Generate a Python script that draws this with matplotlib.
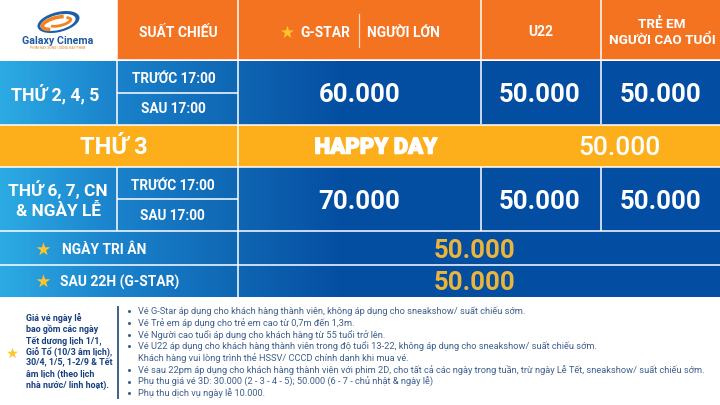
import numpy as np
import matplotlib.pyplot as plt
from matplotlib.colors import LinearSegmentedColormap
from matplotlib.patches import Rectangle, Ellipse, Arc
import matplotlib.patheffects as pe

plt.rcParams['font.family'] = ['Roboto', 'DejaVu Sans']

# table content
header_labels = ['SUẤT CHIẾU', 'G-STAR', 'NGƯỜI LỚN', 'U22', 'TRẺ EM\nNGƯỜI CAO TUỔI']
show_times = ['TRƯỚC 17:00', 'SAU 17:00']
weekday_label = 'THỨ 2, 4, 5'
weekday_prices = ['60.000', '50.000', '50.000']
tuesday_label = 'THỨ 3'
tuesday_title = 'HAPPY DAY'
tuesday_price = '50.000'
weekend_label = 'THỨ 6, 7, CN\n& NGÀY LỄ'
weekend_prices = ['70.000', '50.000', '50.000']
special_labels = ['NGÀY TRI ÂN', 'SAU 22H (G-STAR)']
special_prices = ['50.000', '50.000']
holiday_note = ['Giá vé ngày lễ', 'bao gồm các ngày', 'Tết dương lịch 1/1,',
                'Giỗ Tổ (10/3 âm lịch),', '30/4, 1/5, 1-2/9 & Tết',
                'âm lịch (theo lịch', 'nhà nước/ linh hoạt).']
notes = [
    (True, 'Vé G-Star áp dụng cho khách hàng thành viên, không áp dụng cho sneakshow/ suất chiếu sớm.'),
    (True, 'Vé Trẻ em áp dụng cho trẻ em cao từ 0,7m đến 1,3m.'),
    (True, 'Vé Người cao tuổi áp dụng cho khách hàng từ 55 tuổi trở lên.'),
    (True, 'Vé U22 áp dụng cho khách hàng thành viên trong độ tuổi 13-22, không áp dụng cho sneakshow/ suất chiếu sớm.'),
    (False, 'Khách hàng vui lòng trình thẻ HSSV/ CCCD chính danh khi mua vé.'),
    (True, 'Vé sau 22pm áp dụng cho khách hàng thành viên với phim 2D, cho tất cả các ngày trong tuần, trừ ngày Lễ Tết, sneakshow/ suất chiếu sớm.'),
    (True, 'Phụ thu giá vé 3D: 30.000 (2 - 3 - 4 - 5); 50.000 (6 - 7 - chủ nhật & ngày lễ)'),
    (True, 'Phụ thu dịch vụ ngày lễ 10.000.'),
]

ORANGE = '#F47321'
AMBER = '#FDAE1B'
GOLD = '#E9B53D'
STAR = '#FDC52B'
NAVY = '#17407F'
GREY_TEXT = '#3F5F8C'

fig = plt.figure(figsize=(7.2, 4.05), dpi=100)
ax = fig.add_axes([0, 0, 1, 1])
ax.axis('off')

# blue gradient behind all rows
blues = LinearSegmentedColormap.from_list('blues', [
    (0, '#2CABE3'), (0.16, '#1A82CB'), (0.33, '#0F66B3'), (0.47, '#054FA2'), (1, '#034EA2')])
ax.imshow(np.linspace(0, 1, 720).reshape(1, -1), cmap=blues, aspect='auto',
          extent=(0, 720, 297, 61), zorder=0)
ax.set_xlim(0, 720)
ax.set_ylim(405, 0)

ax.add_patch(Rectangle((117, 0), 603, 60, color=ORANGE, lw=0, zorder=1))
ax.add_patch(Rectangle((0, 125), 720, 41.5, color=AMBER, lw=0, zorder=1))

# grid lines
def hline(y, x0=0, x1=720):
    ax.plot([x0, x1], [y, y], color='white', lw=1.1, zorder=2, solid_capstyle='butt')

def vline(x, y0, y1):
    ax.plot([x, x], [y0, y1], color='white', lw=1.1, zorder=2, solid_capstyle='butt')

for y in [60, 125, 166.5, 231, 265]:
    hline(y)
hline(92.5, 117, 238)
hline(199, 117, 238)
vline(117, 0, 124)
vline(117, 167, 231)
vline(238, 0, 297)
vline(480.5, 0, 124)
vline(480.5, 167, 231)
vline(601, 0, 124)
vline(601, 167, 231)
ax.plot([359, 359], [14, 47], color='#F9D9B8', lw=0.9, zorder=3)

def label(x, y, s, size, color='white', weight='bold', ha='center', **kw):
    # bbox centring sits high because of the accents, push it down a bit
    return ax.text(x, y + size * 0.13, s, fontsize=size, color=color, fontweight=weight,
                   ha=ha, va='center', zorder=4, **kw)

# header
label(178, 32, header_labels[0], 10)
label(325, 32, header_labels[1], 10)
label(403, 32, header_labels[2], 10)
label(541, 31, header_labels[3], 10)
label(662, 31, header_labels[4], 9.7, linespacing=1.3)
ax.scatter([287], [32], marker='*', s=95, color=STAR, lw=0, zorder=4)

# weekday row
label(55.5, 92, weekday_label, 12.8)
for y, s in zip([77.5, 108], show_times):
    label(173.5, y, s, 9.8)
for x, s in zip([359.5, 540, 661], weekday_prices):
    label(x, 93, s, 18.5)

# tuesday row
label(114, 145.5, tuesday_label, 17)
label(376, 145.5, tuesday_title, 16, weight='black',
      path_effects=[pe.withStroke(linewidth=1.0, foreground='white')])
label(619, 145.5, tuesday_price, 19, weight='medium')

# weekend row
label(58, 198, weekend_label, 12.4, linespacing=1.25)
for y, s in zip([184.5, 215], show_times):
    label(172.5, y, s, 9.8)
for x, s in zip([359.5, 540, 661], weekend_prices):
    label(x, 199.5, s, 18.5)

# special rows
for y, s, p in zip([248.5, 281], special_labels, special_prices):
    label(62 if y < 260 else 60, y, s, 10, ha='left')
    ax.scatter([43], [y], marker='*', s=105, color=STAR, lw=0, zorder=4)
    label(475, y, p, 18.5, color=GOLD)

# logo
ax.add_patch(Ellipse((58.5, 22), 43, 20, angle=-14, color='#1C5FA8', lw=0, zorder=2))
ax.add_patch(Ellipse((58, 22.5), 36, 15, angle=-14, color='white', lw=0, zorder=3))
ax.add_patch(Arc((57, 23), 30, 11, angle=-14, theta1=150, theta2=330, color='#F58220', lw=2.6, zorder=4))
ax.add_patch(Arc((60, 22), 22, 7, angle=-14, theta1=-20, theta2=170, color='#F58220', lw=2.0, zorder=4))
label(57.5, 39.5, 'Galaxy Cinema', 7.7, color='#1F5AA0')
label(57.5, 48, 'PHIM HAY SỐNG | SỐNG HAY PHIM', 2.4, color='#E8A15A')

# footer
ax.scatter([12], [353], marker='*', s=70, color=STAR, lw=0, zorder=4)
for y, s in zip([317, 328, 340, 351, 362, 373, 384], holiday_note):
    label(26, y, s, 6.4, color=NAVY, ha='left')
ax.plot([118, 118], [307, 398], color='#3D5F8E', lw=1.4, zorder=3)
for y, (has_bullet, s) in zip([310.5, 322, 334, 345.5, 357.5, 369.5, 381, 392.5], notes):
    if has_bullet:
        ax.plot([129], [y + 0.5], marker='o', ms=1.2, color=GREY_TEXT, zorder=4)
    label(138.5, y, s, 6.7, color=GREY_TEXT, weight='normal', ha='left')

fig.savefig('out.png', dpi=100)
